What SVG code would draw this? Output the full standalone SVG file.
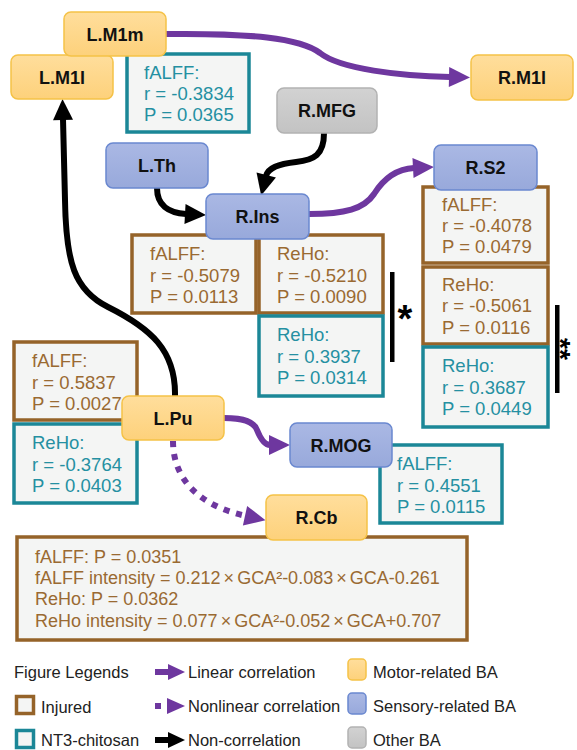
<svg xmlns="http://www.w3.org/2000/svg" width="577" height="750" viewBox="0 0 577 750">
<style>
.nd text{font-family:"Liberation Sans",Arial,sans-serif;font-weight:bold;font-size:18px;fill:#111;text-anchor:middle}
.mot{fill:url(#gM);stroke:#F5C247;stroke-width:1.5}
.sen{fill:url(#gS);stroke:#6A88D0;stroke-width:1.5}
.oth{fill:url(#gO);stroke:#B2B2B2;stroke-width:1.5}
.bx{fill:#F4F5F4;stroke-width:3.5}
.br{stroke:#956329}
.tl{stroke:#1B8797}
.t{font-family:"Liberation Sans",Arial,sans-serif;font-size:18.5px}
.tb{fill:#9A6A32}
.tt{fill:#2590A2}
.lg{font-family:"Liberation Sans",Arial,sans-serif;font-size:16.5px;fill:#222}
.cp{fill:none;stroke:#6E379F;stroke-width:6}
.ck{fill:none;stroke:#000;stroke-width:6}
.st{font-family:"Liberation Sans",Arial,sans-serif;font-weight:bold;text-anchor:middle;fill:#000}
</style>
<defs>
<linearGradient id="gM" x1="0" y1="0" x2="0" y2="1"><stop offset="0" stop-color="#FFDE9C"/><stop offset="1" stop-color="#FDD17B"/></linearGradient>
<linearGradient id="gS" x1="0" y1="0" x2="0" y2="1"><stop offset="0" stop-color="#AAB8E4"/><stop offset="1" stop-color="#98A9DB"/></linearGradient>
<linearGradient id="gO" x1="0" y1="0" x2="0" y2="1"><stop offset="0" stop-color="#D2D2D2"/><stop offset="1" stop-color="#C3C3C3"/></linearGradient>
<marker id="aP" markerUnits="userSpaceOnUse" markerWidth="24" markerHeight="22" refX="1" refY="10" orient="auto" overflow="visible"><path d="M0,0 L21,10 L0,20 z" fill="#6E379F"/></marker>
<marker id="aK" markerUnits="userSpaceOnUse" markerWidth="24" markerHeight="22" refX="1" refY="10" orient="auto" overflow="visible"><path d="M0,0 L21,10 L0,20 z" fill="#000"/></marker>
</defs>
<rect width="577" height="750" fill="#fff"/>

<!-- value boxes -->
<g id="box-LM1m-fALFF"><rect class="bx tl" x="127" y="54" width="122" height="78"/>
<text class="t tt" x="144" y="79">fALFF:</text><text class="t tt" x="144" y="100">r = -0.3834</text><text class="t tt" x="144" y="121">P = 0.0365</text></g>
<g id="box-RIns-fALFF"><rect class="bx br" x="132" y="235" width="124" height="78"/>
<text class="t tb" x="150" y="260">fALFF:</text><text class="t tb" x="150" y="282">r = -0.5079</text><text class="t tb" x="150" y="303">P = 0.0113</text></g>
<g id="box-RIns-ReHo-inj"><rect class="bx br" x="259" y="235" width="124" height="78"/>
<text class="t tb" x="277" y="260">ReHo:</text><text class="t tb" x="277" y="282">r = -0.5210</text><text class="t tb" x="277" y="303">P = 0.0090</text></g>
<g id="box-RIns-ReHo-nt3"><rect class="bx tl" x="259" y="316" width="124" height="80"/>
<text class="t tt" x="277" y="341">ReHo:</text><text class="t tt" x="277" y="363">r = 0.3937</text><text class="t tt" x="277" y="384">P = 0.0314</text></g>
<g id="box-RS2-fALFF"><rect class="bx br" x="423" y="187" width="125" height="76"/>
<text class="t tb" x="442" y="211">fALFF:</text><text class="t tb" x="442" y="232">r = -0.4078</text><text class="t tb" x="442" y="253">P = 0.0479</text></g>
<g id="box-RS2-ReHo-inj"><rect class="bx br" x="423" y="267" width="125" height="77"/>
<text class="t tb" x="442" y="291">ReHo:</text><text class="t tb" x="442" y="312">r = -0.5061</text><text class="t tb" x="442" y="334">P = 0.0116</text></g>
<g id="box-RS2-ReHo-nt3"><rect class="bx tl" x="423" y="347" width="125" height="80"/>
<text class="t tt" x="442" y="372">ReHo:</text><text class="t tt" x="442" y="394">r = 0.3687</text><text class="t tt" x="442" y="415">P = 0.0449</text></g>
<g id="box-LPu-fALFF"><rect class="bx br" x="14" y="342" width="123" height="78"/>
<text class="t tb" x="32" y="367">fALFF:</text><text class="t tb" x="32" y="389">r = 0.5837</text><text class="t tb" x="32" y="410">P = 0.0027</text></g>
<g id="box-LPu-ReHo"><rect class="bx tl" x="14" y="424" width="123" height="79"/>
<text class="t tt" x="32" y="449">ReHo:</text><text class="t tt" x="32" y="471">r = -0.3764</text><text class="t tt" x="32" y="492">P = 0.0403</text></g>
<g id="box-RMOG-fALFF"><rect class="bx tl" x="380" y="445" width="122" height="78"/>
<text class="t tt" x="397" y="470">fALFF:</text><text class="t tt" x="397" y="492">r = 0.4551</text><text class="t tt" x="397" y="513">P = 0.0115</text></g>
<g id="box-RCb"><rect class="bx br" x="17" y="537" width="450" height="103"/>
<text class="t tb" x="35" y="563" style="font-size:18px">fALFF: P = 0.0351</text>
<text class="t tb" x="35" y="584" style="font-size:18px">fALFF intensity = 0.212<tspan dx="3">×</tspan><tspan dx="3">GCA²-0.083</tspan><tspan dx="3">×</tspan><tspan dx="3">GCA-0.261</tspan></text>
<text class="t tb" x="35" y="605" style="font-size:18px">ReHo: P = 0.0362</text>
<text class="t tb" x="35" y="627" style="font-size:18px">ReHo intensity = 0.077<tspan dx="3">×</tspan><tspan dx="3">GCA²-0.052</tspan><tspan dx="3">×</tspan><tspan dx="3">GCA+0.707</tspan></text></g>

<!-- significance marks -->
<g id="sig">
<rect x="390" y="272" width="4.5" height="90" fill="#000"/>
<text class="st" x="405" y="332" font-size="38">*</text>
<rect x="555" y="305" width="4.5" height="88" fill="#000"/>
<text class="st" transform="translate(566,349) rotate(90)" x="0" y="15" font-size="28">**</text>
</g>

<!-- connectors -->
<g id="connectors">
<path class="cp" d="M166,34 C250,33 300,38 320,53 C340,69 400,76 450,77" marker-end="url(#aP)"/>
<path class="ck" d="M175,396 C176,350 150,328 108,307 C74,290 66,262 65,200 L63,119" marker-end="url(#aK)"/>
<path class="ck" d="M157,188 C157,205 168,213 186,214" marker-end="url(#aK)"/>
<path class="ck" d="M324,133 C324,155 314,160 296,162 C278,164 268,168 266,176" marker-end="url(#aK)"/>
<path class="cp" d="M309,214 C345,214 364,209 374,194 C384,178 396,169 414,168" marker-end="url(#aP)"/>
<path class="cp" d="M224,418 C245,418 254,422 257,430 C261,440 265,445 270,445" marker-end="url(#aP)"/>
<path class="cp" d="M173,441 C173,480 200,506 246,516" stroke-dasharray="6,7" marker-end="url(#aP)"/>
</g>

<!-- nodes -->
<g id="L.M1l" class="nd"><rect class="mot" x="11" y="55" width="102" height="44" rx="7"/><text x="62" y="83.5">L.M1l</text></g>
<g id="L.M1m" class="nd"><rect class="mot" x="64" y="12" width="102" height="44" rx="7"/><text x="115" y="40.5">L.M1m</text></g>
<g id="R.M1l" class="nd"><rect class="mot" x="471" y="55" width="102" height="45" rx="7"/><text x="522" y="84">R.M1l</text></g>
<g id="R.MFG" class="nd"><rect class="oth" x="277" y="88" width="100" height="45" rx="7"/><text x="327" y="117">R.MFG</text></g>
<g id="L.Th" class="nd"><rect class="sen" x="106" y="143" width="102" height="45" rx="7"/><text x="157" y="172">L.Th</text></g>
<g id="R.S2" class="nd"><rect class="sen" x="434" y="145" width="103" height="45" rx="7"/><text x="485.5" y="174">R.S2</text></g>
<g id="R.Ins" class="nd"><rect class="sen" x="206" y="194" width="103" height="45" rx="7"/><text x="257.5" y="223">R.Ins</text></g>
<g id="L.Pu" class="nd"><rect class="mot" x="122" y="396" width="102" height="44" rx="7"/><text x="173" y="424.5">L.Pu</text></g>
<g id="R.MOG" class="nd"><rect class="sen" x="290" y="423" width="102" height="44" rx="7"/><text x="341" y="451.5">R.MOG</text></g>
<g id="R.Cb" class="nd"><rect class="mot" x="266" y="495" width="101" height="45" rx="7"/><text x="316.5" y="524">R.Cb</text></g>

<!-- legend -->
<g id="legend">
<text class="lg" x="14" y="678">Figure Legends</text>
<rect x="16.5" y="696.5" width="17" height="17" fill="#F4F5F4" stroke="#956329" stroke-width="3.5"/>
<text class="lg" x="41" y="713">Injured</text>
<rect x="16.5" y="730.5" width="17" height="17" fill="#F4F5F4" stroke="#1B8797" stroke-width="3.5"/>
<text class="lg" x="41" y="746">NT3-chitosan</text>
<rect x="155" y="669" width="15" height="6" fill="#6E379F"/><path d="M168,664 L185,672 L168,680 z" fill="#6E379F"/>
<text class="lg" x="188" y="678">Linear correlation</text>
<rect x="155" y="703" width="6" height="6" fill="#6E379F"/><path d="M167,698 L185,706 L167,714 z" fill="#6E379F"/>
<text class="lg" x="188" y="712">Nonlinear correlation</text>
<rect x="155" y="737" width="15" height="6" fill="#000"/><path d="M168,732 L185,740 L168,748 z" fill="#000"/>
<text class="lg" x="188" y="746">Non-correlation</text>
<rect class="mot" x="348" y="659" width="18" height="21" rx="4"/>
<text class="lg" x="373" y="678">Motor-related BA</text>
<rect class="sen" x="348" y="693" width="18" height="21" rx="4"/>
<text class="lg" x="373" y="712">Sensory-related BA</text>
<rect class="oth" x="348" y="727" width="18" height="21" rx="4"/>
<text class="lg" x="373" y="746">Other BA</text>
</g>
</svg>
